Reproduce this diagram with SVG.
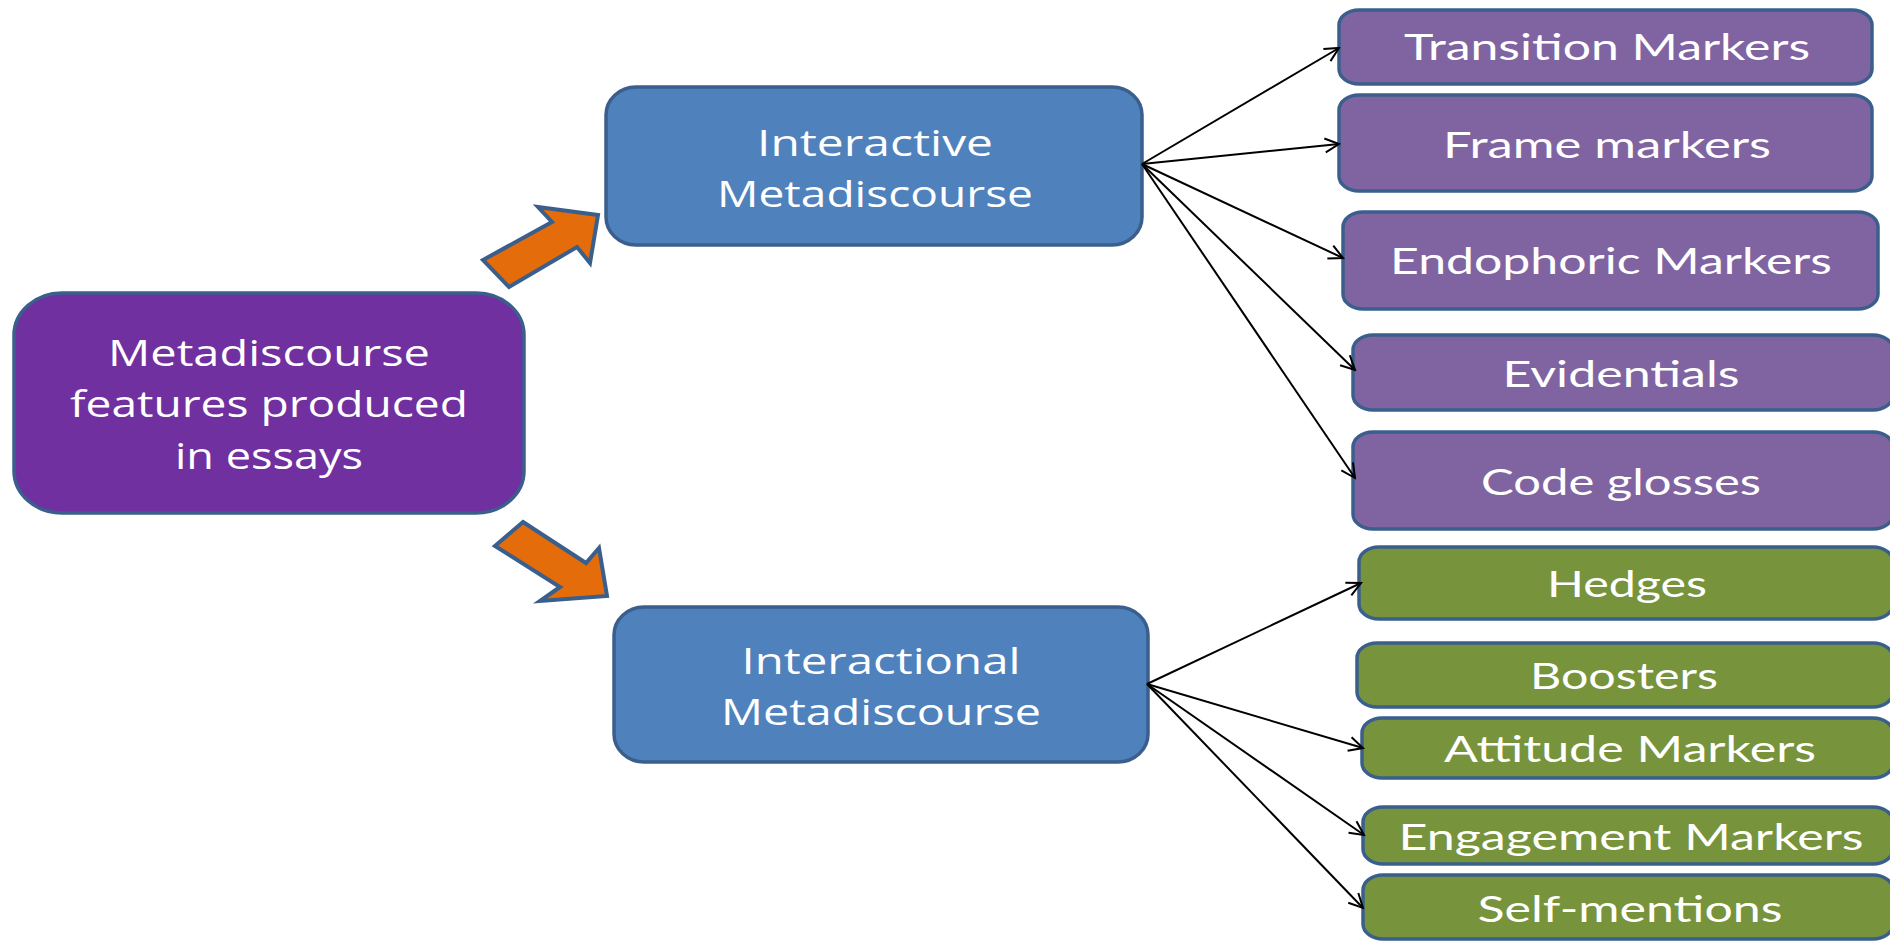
<svg xmlns="http://www.w3.org/2000/svg" width="1890" height="941" viewBox="0 0 1890 941">
  <style>
    .box { stroke: #3a5f8c; stroke-width: 3.5; }
    .root { fill: #7030a0; }
    .mid { fill: #4f81bd; }
    .purple { fill: #8064a2; }
    .green { fill: #77933c; }
    .big { font-family: "Open Sans", "Liberation Sans", sans-serif; font-size: 36px; fill: #ffffff; text-anchor: middle; }
    .small { font-family: "Lato", "Open Sans", sans-serif; font-size: 37px; fill: #ffffff; text-anchor: middle; }
    .link { stroke: #000000; stroke-width: 2; fill: none; marker-end: url(#open); }
    .fat { fill: #e46c0a; stroke: #3a5f8c; stroke-width: 4; stroke-linejoin: miter; }
  </style>
  <defs>
    <marker id="open" markerUnits="userSpaceOnUse" markerWidth="18" markerHeight="18" viewBox="0 0 18 18" refX="16" refY="9" orient="auto">
      <path d="M2,2 L16,9 L2,16" fill="none" stroke="#000000" stroke-width="2"/>
    </marker>
  </defs>
  <rect width="1890" height="941" fill="#ffffff"/>

  <!-- root node -->
  <g id="root">
    <rect class="box root" x="14" y="293" width="510" height="220" rx="48" ry="42"/>
    <text class="big" x="269" y="366" textLength="322" lengthAdjust="spacingAndGlyphs">Metadiscourse</text>
    <text class="big" x="269" y="417" textLength="398" lengthAdjust="spacingAndGlyphs">features produced</text>
    <text class="big" x="269" y="469" textLength="188" lengthAdjust="spacingAndGlyphs">in essays</text>
  </g>

  <!-- block arrows -->
  <g id="arrow-up">
    <polygon class="fat" points="483,260 552,222 538,207 598,215 590,263 577,247 509,287"/>
  </g>
  <g id="arrow-down">
    <polygon class="fat" points="523,522 586,563 599,548 607,596 540,601 560,587 495,546"/>
  </g>

  <!-- category nodes -->
  <g id="interactive">
    <rect class="box mid" x="606" y="87" width="536" height="158" rx="30" ry="28"/>
    <text class="big" x="875" y="156" textLength="236" lengthAdjust="spacingAndGlyphs">Interactive</text>
    <text class="big" x="875" y="207" textLength="316" lengthAdjust="spacingAndGlyphs">Metadiscourse</text>
  </g>
  <g id="interactional">
    <rect class="box mid" x="614" y="607" width="534" height="155" rx="30" ry="28"/>
    <text class="big" x="881" y="674" textLength="279" lengthAdjust="spacingAndGlyphs">Interactional</text>
    <text class="big" x="881" y="725" textLength="320" lengthAdjust="spacingAndGlyphs">Metadiscourse</text>
  </g>

  <!-- interactive sub-types -->
  <g id="transition">
    <rect class="box purple" x="1339" y="10" width="533" height="74" rx="20" ry="15"/>
    <text class="small" x="1607" y="60" textLength="406" lengthAdjust="spacingAndGlyphs">Transition Markers</text>
  </g>
  <g id="frame">
    <rect class="box purple" x="1339" y="95" width="533" height="96" rx="20" ry="15"/>
    <text class="small" x="1607" y="158" textLength="328" lengthAdjust="spacingAndGlyphs">Frame markers</text>
  </g>
  <g id="endophoric">
    <rect class="box purple" x="1343" y="212" width="535" height="97" rx="20" ry="15"/>
    <text class="small" x="1611" y="274" textLength="442" lengthAdjust="spacingAndGlyphs">Endophoric Markers</text>
  </g>
  <g id="evidentials">
    <rect class="box purple" x="1353" y="335" width="540" height="75" rx="20" ry="15"/>
    <text class="small" x="1621" y="387" textLength="237" lengthAdjust="spacingAndGlyphs">Evidentials</text>
  </g>
  <g id="code-glosses">
    <rect class="box purple" x="1353" y="432" width="540" height="97" rx="20" ry="15"/>
    <text class="small" x="1621" y="495" textLength="280" lengthAdjust="spacingAndGlyphs">Code glosses</text>
  </g>

  <!-- interactional sub-types -->
  <g id="hedges">
    <rect class="box green" x="1359" y="547" width="534" height="72" rx="20" ry="15"/>
    <text class="small" x="1627" y="597" textLength="160" lengthAdjust="spacingAndGlyphs">Hedges</text>
  </g>
  <g id="boosters">
    <rect class="box green" x="1357" y="643" width="536" height="64" rx="20" ry="15"/>
    <text class="small" x="1624" y="689" textLength="188" lengthAdjust="spacingAndGlyphs">Boosters</text>
  </g>
  <g id="attitude">
    <rect class="box green" x="1362" y="718" width="531" height="60" rx="20" ry="15"/>
    <text class="small" x="1630" y="762" textLength="372" lengthAdjust="spacingAndGlyphs">Attitude Markers</text>
  </g>
  <g id="engagement">
    <rect class="box green" x="1363" y="807" width="530" height="57" rx="20" ry="15"/>
    <text class="small" x="1631" y="850" textLength="465" lengthAdjust="spacingAndGlyphs">Engagement Markers</text>
  </g>
  <g id="self-mentions">
    <rect class="box green" x="1363" y="875" width="530" height="64" rx="20" ry="15"/>
    <text class="small" x="1630" y="922" textLength="305" lengthAdjust="spacingAndGlyphs">Self-mentions</text>
  </g>

  <!-- connectors -->
  <g id="connectors">
    <line class="link" x1="1142" y1="164" x2="1339" y2="48"/>
    <line class="link" x1="1142" y1="164" x2="1339" y2="144"/>
    <line class="link" x1="1142" y1="164" x2="1343" y2="258"/>
    <line class="link" x1="1142" y1="164" x2="1355" y2="370"/>
    <line class="link" x1="1142" y1="164" x2="1355" y2="478"/>
    <line class="link" x1="1147" y1="684" x2="1361" y2="583"/>
    <line class="link" x1="1147" y1="684" x2="1363" y2="748"/>
    <line class="link" x1="1147" y1="684" x2="1364" y2="835"/>
    <line class="link" x1="1147" y1="684" x2="1363" y2="908"/>
  </g>
</svg>
